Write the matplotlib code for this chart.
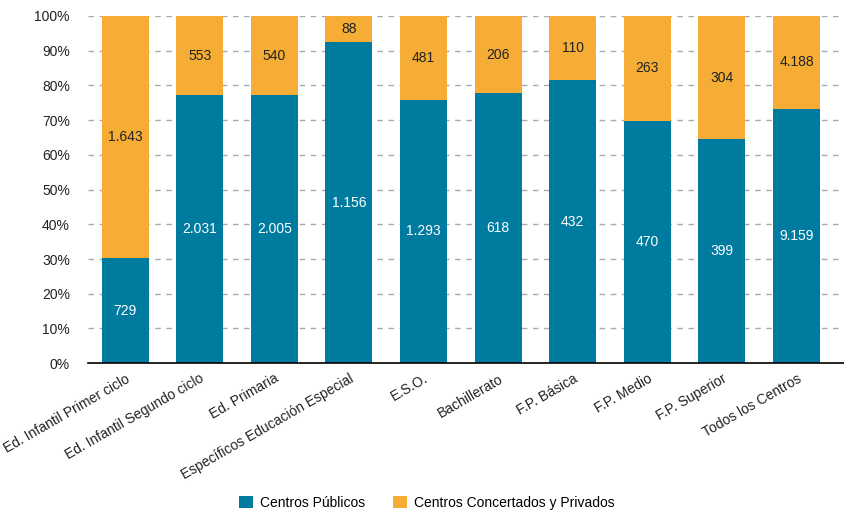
import matplotlib.pyplot as plt
from matplotlib.ticker import PercentFormatter

# Niveles educativos
categories = ['Ed. Infantil Primer ciclo', 'Ed. Infantil Segundo ciclo', 'Ed. Primaria',
              'Específicos Educación Especial', 'E.S.O.', 'Bachillerato', 'F.P. Básica',
              'F.P. Medio', 'F.P. Superior', 'Todos los Centros']

# Porcentaje de centros públicos
public_pct = [30.2, 77.1, 77.1, 92.4, 75.9, 77.7, 81.5, 69.8, 64.5, 73.3]
private_pct = [100 - p for p in public_pct]

# Etiquetas de número de centros
public_labels = ['729', '2.031', '2.005', '1.156', '1.293', '618', '432', '470', '399', '9.159']
private_labels = ['1.643', '553', '540', '88', '481', '206', '110', '263', '304', '4.188']

blue = '#007BA0'
orange = '#F5AD35'

plt.rcParams['font.family'] = ['Liberation Sans', 'DejaVu Sans']

fig = plt.figure(figsize=(8.45, 5.13), dpi=100)
ax = fig.add_axes([0.104, 0.292, 0.896, 0.677])

x = list(range(len(categories)))
width = 0.63
b1 = ax.bar(x, public_pct, width, color=blue, label='Centros Públicos', zorder=3)
b2 = ax.bar(x, private_pct, width, bottom=public_pct, color=orange,
            label='Centros Concertados y Privados', zorder=3)

for i in x:
    ax.text(i, public_pct[i] / 2, public_labels[i], ha='center', va='center',
            color='white', fontsize=10, zorder=4)
    ax.text(i, public_pct[i] + private_pct[i] / 2, private_labels[i], ha='center',
            va='center', color='#222222', fontsize=10, zorder=4)

ax.set_ylim(0, 100)
ax.set_xlim(-0.5, 9.65)
ax.set_yticks(range(0, 101, 10))
ax.yaxis.set_major_formatter(PercentFormatter(decimals=0))
ax.grid(axis='y', color='#AAAAAA', linestyle=(0, (4, 4)), linewidth=1, zorder=0)
ax.set_axisbelow(True)

for side in ['left', 'right', 'top']:
    ax.spines[side].set_visible(False)
ax.spines['bottom'].set_color('black')
ax.spines['bottom'].set_linewidth(1.2)
ax.spines['bottom'].set_zorder(5)

ax.tick_params(axis='both', length=0, labelsize=10, colors='#222222')
ax.tick_params(axis='y', pad=13)
ax.set_xticks(x)
ax.set_xticklabels(categories, rotation=30, ha='right', rotation_mode='anchor')
ax.tick_params(axis='x', pad=6)

fig.legend(handles=[b1, b2], loc='center', bbox_to_anchor=(0.505, 0.02),
           ncol=2, frameon=False, fontsize=10, handlelength=1.0, handleheight=1.0,
           columnspacing=2.0, handletextpad=0.5)

fig.savefig('out.png', dpi=100)
